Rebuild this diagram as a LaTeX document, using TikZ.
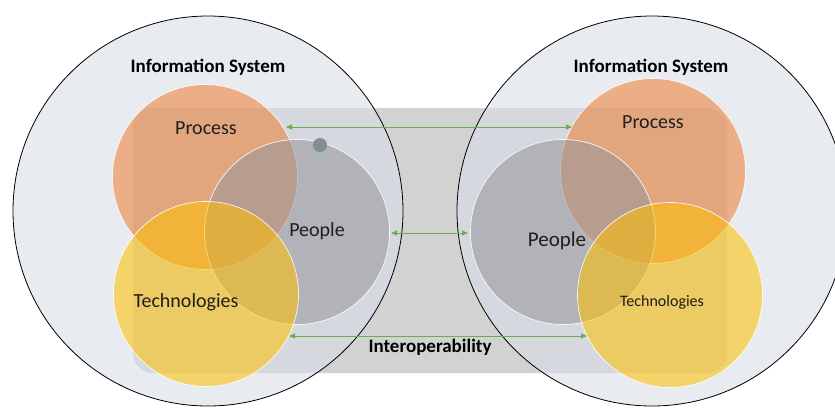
\documentclass[tikz,border=0pt]{standalone}
\usepackage{fontspec}
\setmainfont{Carlito}
\usetikzlibrary{arrows.meta}
\definecolor{bigfill}{RGB}{216,221,230}
\definecolor{rectgray}{RGB}{210,210,210}
\definecolor{procc}{RGB}{237,125,49}
\definecolor{techc}{RGB}{255,192,0}
\definecolor{peoc}{RGB}{150,148,156}
\definecolor{dotc}{RGB}{128,143,150}
\definecolor{arrc}{RGB}{112,173,71}
\definecolor{txt}{RGB}{30,30,30}
\tikzset{
  bigcirc/.style={circle, draw=black, line width=0.8pt, fill=bigfill, fill opacity=0.6, inner sep=0pt, minimum size=390pt},
  venn/.style={circle, draw=white, draw opacity=0.9, line width=0.7pt, fill opacity=0.55, inner sep=0pt, minimum size=185pt},
  link/.style={draw=arrc, line width=0.8pt, {Triangle[length=6pt,width=5pt]}-{Triangle[length=6pt,width=5pt]}},
  lbl/.style={anchor=base, inner sep=0pt, text=txt, font=\fontsize{20}{24}\selectfont},
  title/.style={anchor=base, inner sep=0pt, text=black, font=\fontsize{19}{23}\selectfont\bfseries}
}
\begin{document}
\begin{tikzpicture}[x=1pt,y=-1pt]
\useasboundingbox (0,0) rectangle (835,408);
% interoperability band
\fill[rectgray, rounded corners=20pt] (133,108) rectangle (727,373);
% information systems
\node[bigcirc] (isl) at (208,211) {};
\node[bigcirc] (isr) at (652,211) {};
% left venn
\node[venn, fill=procc] (procl) at (205,177) {};
\node[venn, fill=peoc] (peol) at (297,232) {};
\node[venn, fill=techc] (techl) at (206,294) {};
% right venn
\node[venn, fill=procc] (procr) at (653,171) {};
\node[venn, fill=peoc] (peor) at (563,232) {};
\node[venn, fill=techc] (techr) at (670,295) {};
% dot
\node[circle, fill=dotc, inner sep=0pt, minimum size=14pt] (dot) at (320,145) {};
% connectors
\coordinate (a1l) at (286,127);
\coordinate (a1r) at (572,127);
\coordinate (a2l) at (391,233);
\coordinate (a2r) at (468,233);
\coordinate (a3l) at (289,336);
\coordinate (a3r) at (587,336);
\draw[link] (a1l) -- (a1r);
\draw[link] (a2l) -- (a2r);
\draw[link] (a3l) -- (a3r);
% texts
\node[title] (tisl) at (208,72) {Information System};
\node[title] (tisr) at (651,72) {Information System};
\node[lbl] (tprocl) at (206,134) {Process};
\node[lbl] (tpeol) at (317,236) {People};
\node[lbl] (ttechl) at (186,307) {Technologies};
\node[lbl] (tprocr) at (653,128) {Process};
\node[lbl, font=\fontsize{21}{25}\selectfont] (tpeor) at (557,246) {People};
\node[lbl, font=\fontsize{16}{20}\selectfont] (ttechr) at (662,306) {Technologies};
\node[title] (tint) at (430,352) {Interoperability};
\end{tikzpicture}
\end{document}
